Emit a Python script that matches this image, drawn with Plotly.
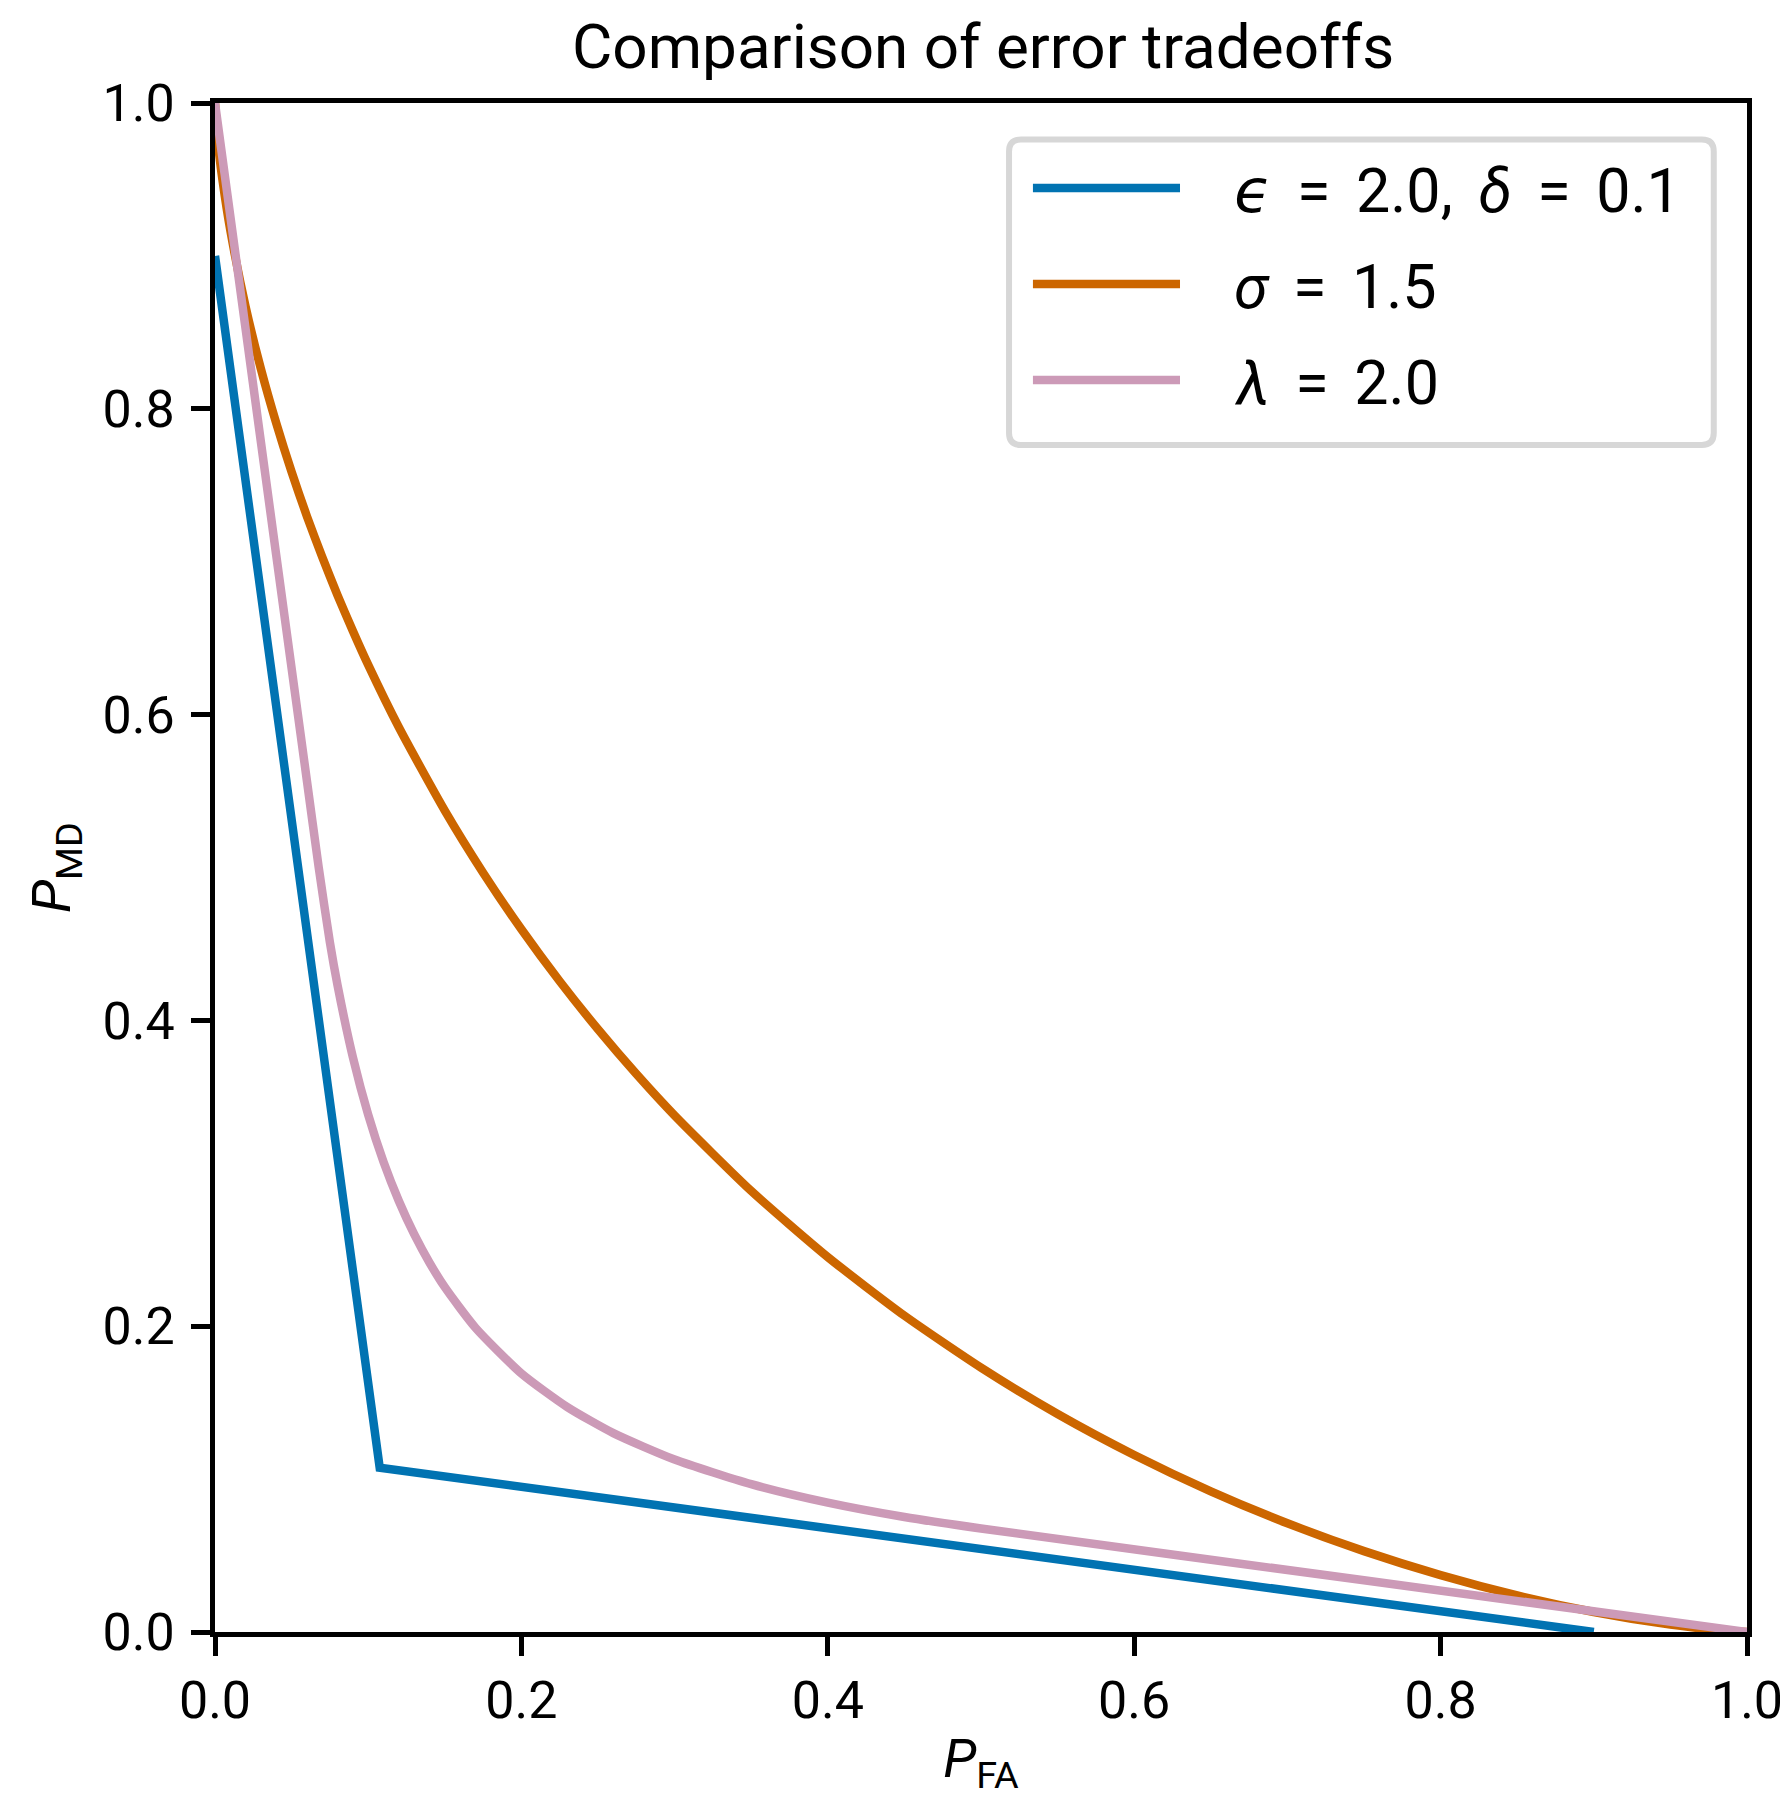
import plotly.graph_objects as go

# ---- data ----
eps_x = [0.0, 0.1075, 0.9]
eps_y = [0.9, 0.1075, 0.0]

sig_x = [0.0, 0.002, 0.005, 0.01, 0.02, 0.03, 0.04, 0.05, 0.06, 0.07, 0.08, 0.09, 0.10,
         0.12, 0.15, 0.175, 0.20, 0.225, 0.25, 0.275, 0.30, 0.35, 0.40, 0.45, 0.50, 0.55,
         0.60, 0.65, 0.70, 0.75, 0.80, 0.85, 0.90, 0.95, 0.98, 1.0]
sig_y = [1.0, 0.9735, 0.9488, 0.9167, 0.8667, 0.8259, 0.7905, 0.7587, 0.7297, 0.703, 0.678,
         0.6547, 0.6325, 0.5917, 0.5372, 0.4966, 0.4596, 0.4256, 0.3942, 0.365, 0.3378,
         0.2885, 0.2452, 0.2069, 0.1729, 0.1426, 0.1158, 0.0920, 0.0711, 0.0529, 0.0372,
         0.0239, 0.0131, 0.0048, 0.0014, 0.0]

lam_x = [0.0, 0.02, 0.04, 0.06, 0.0677, 0.075, 0.08, 0.09, 0.10, 0.11, 0.12, 0.13, 0.14,
         0.15, 0.17, 0.20, 0.23, 0.26, 0.30, 0.35, 0.40, 0.45, 0.50, 0.75, 1.0]
lam_y = [1.0, 0.852, 0.704, 0.5567, 0.50, 0.451, 0.4229, 0.3759, 0.3383, 0.3075, 0.2819,
         0.2602, 0.2416, 0.2255, 0.199, 0.1691, 0.1471, 0.1301, 0.1128, 0.0967, 0.0846,
         0.0752, 0.0677, 0.0338, 0.0]

EQ = " \u2006=\u2006 "
series_names = [f"<i>ϵ</i>{EQ}2.0, \u2006<i>δ</i>{EQ}0.1",
                f"<i>σ</i>{EQ}1.5",
                f"<i>λ</i>{EQ}2.0"]
series_colors = ["#0173B2", "#CC6600", "#CC9AB7"]
series_shapes = ["linear", "spline", "spline"]

tick_vals = [0.0, 0.2, 0.4, 0.6, 0.8, 1.0]
tick_text = ["0.0", "0.2", "0.4", "0.6", "0.8", "1.0"]

FONT = "Roboto, DejaVu Sans, sans-serif"
LW = 8.5

fig = go.Figure()
for xs, ys, name, col, shp in zip([eps_x, sig_x, lam_x], [eps_y, sig_y, lam_y],
                                  series_names, series_colors, series_shapes):
    fig.add_trace(go.Scatter(x=xs, y=ys, mode="lines", name=name,
                             line=dict(color=col, width=LW, shape=shp, smoothing=0.6),
                             showlegend=False))

# ---- custom legend (long line samples, rounded frame) ----
lx0, lx1, ly0, ly1 = 0.5183, 0.9783, 0.7763, 0.9761
rx, ry = 0.0078, 0.0078
path = (f"M{lx0+rx},{ly1} L{lx1-rx},{ly1} Q{lx1},{ly1} {lx1},{ly1-ry} "
        f"L{lx1},{ly0+ry} Q{lx1},{ly0} {lx1-rx},{ly0} L{lx0+rx},{ly0} "
        f"Q{lx0},{ly0} {lx0},{ly0+ry} L{lx0},{ly1-ry} Q{lx0},{ly1} {lx0+rx},{ly1} Z")
fig.add_shape(type="path", path=path, xref="paper", yref="paper",
              line=dict(color="#D7D7D7", width=6), fillcolor="rgba(255,255,255,0.8)",
              layer="above")
row_y = [0.9444, 0.8816, 0.8188]
for yy, name, col in zip(row_y, series_names, series_colors):
    fig.add_shape(type="line", xref="paper", yref="paper", x0=0.5339, x1=0.6299,
                  y0=yy, y1=yy, line=dict(color=col, width=LW), layer="above")
    fig.add_annotation(x=0.6638, y=yy - 0.002, xref="paper", yref="paper", text=name,
                       showarrow=False, xanchor="left", yanchor="middle",
                       font=dict(family=FONT, size=61, color="black"))

axis_common = dict(range=[0, 1], tickvals=tick_vals, ticktext=tick_text,
                   ticks="outside", ticklen=19, tickwidth=4.7, tickcolor="black",
                   showline=True, linewidth=4.7, linecolor="black", mirror=True,
                   showgrid=False, zeroline=False, automargin=False,
                   tickfont=dict(family=FONT, size=52, color="black"))

# page body has an 8px default margin; figure is sized/offset to compensate
fig.update_layout(
    width=1780, height=1789,
    margin=dict(l=207, r=41, t=95, b=165),
    paper_bgcolor="white", plot_bgcolor="white",
    title=dict(text="Comparison of error tradeoffs", x=0.5478, xanchor="center",
               y=0.9786, yanchor="middle",
               font=dict(family=FONT, size=62, color="black")),
    xaxis=dict(**axis_common,
               title=dict(text="<i>P</i><sub>FA</sub>", standoff=37,
                          font=dict(family=FONT, size=54, color="black"))),
    yaxis=dict(**axis_common, ticklabelstandoff=6,
               title=dict(text="<i>P</i><sub>MD</sub>", standoff=16,
                          font=dict(family=FONT, size=54, color="black"))),
)

fig.write_html("out.html")
